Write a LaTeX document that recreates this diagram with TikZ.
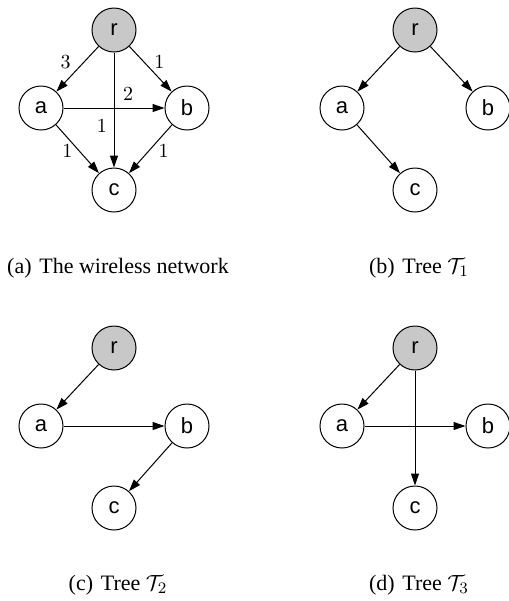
\documentclass[tikz,border=0pt]{standalone}
\usepackage[no-math]{fontspec}
\setmainfont{Liberation Serif}
\setsansfont{Liberation Sans}
\usetikzlibrary{arrows.meta}
\definecolor{rootgray}{RGB}{200,200,200}
\tikzset{
  vertex/.style={circle, draw, line width=0.5pt, minimum size=22pt, inner sep=0pt,
    font=\sffamily\fontsize{11}{13}\selectfont},
  root/.style={vertex, fill=rootgray},
  link/.style={line width=0.5pt, -{Triangle[length=6pt,width=4pt]}},
  weight/.style={font=\fontsize{10}{12}\selectfont},
  caption/.style={font=\fontsize{11}{13}\selectfont}
}
\begin{document}
\begin{tikzpicture}[x=0.5pt,y=-0.5pt]
    \useasboundingbox (0,0) rectangle (509,601);

    % Nodes of the four panels
    \foreach \p/\x/\y in {1/114/30, 2/415/30, 3/114/348, 4/415/348}{
        \node[root] (r\p) at (\x,\y) {r};
        \node[vertex] (a\p) at (\x-73,\y+78) {a};
        \node[vertex] (b\p) at (\x+73,\y+78) {b};
        \node[vertex] (c\p) at (\x,\y+160) {c};
    }

    % (a) The wireless network
    \draw[link] (r1) -- node[weight, pos=0.35, left=3pt] {$3$} (a1);
    \draw[link] (r1) -- node[weight, pos=0.35, right=1.5pt] {$1$} (b1);
    \draw[link] (r1) -- node[weight, pos=0.64, left] {$1$} (c1);
    \draw[link] (a1) -- node[weight, pos=0.64, above] {$2$} (b1);
    \draw[link] (a1) -- node[weight, pos=0.55, left] {$1$} (c1);
    \draw[link] (b1) -- node[weight, pos=0.55, right=1.5pt] {$1$} (c1);

    % (b) Tree T1
    \draw[link] (r2) -- (a2);
    \draw[link] (r2) -- (b2);
    \draw[link] (a2) -- (c2);

    % (c) Tree T2
    \draw[link] (r3) -- (a3);
    \draw[link] (a3) -- (b3);
    \draw[link] (b3) -- (c3);

    % (d) Tree T3
    \draw[link] (r4) -- (a4);
    \draw[link] (a4) -- (b4);
    \draw[link] (r4) -- (c4);

    % Captions
    \node[caption] (capA) at (118,268) {(a)\hspace{0.35em}The wireless network};
    \node[caption] (capB) at (419,268) {(b)\hspace{0.35em}Tree $\mathcal{T}_1$};
    \node[caption] (capC) at (118,585) {(c)\hspace{0.35em}Tree $\mathcal{T}_2$};
    \node[caption] (capD) at (419,585) {(d)\hspace{0.35em}Tree $\mathcal{T}_3$};
\end{tikzpicture}
\end{document}
